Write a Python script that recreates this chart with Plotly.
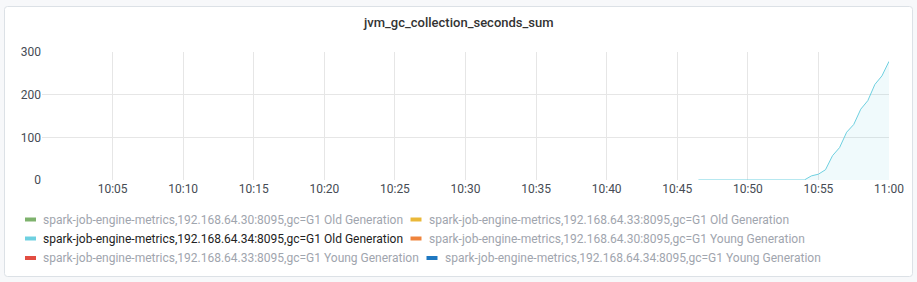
import plotly.graph_objects as go

# ---- data ----
TITLE = "jvm_gc_collection_seconds_sum"
times = [
    "2024-01-01 10:46:30", "2024-01-01 10:47:00", "2024-01-01 10:47:30", "2024-01-01 10:48:00",
    "2024-01-01 10:48:30", "2024-01-01 10:49:00", "2024-01-01 10:49:30", "2024-01-01 10:50:00",
    "2024-01-01 10:50:30", "2024-01-01 10:51:00", "2024-01-01 10:51:30", "2024-01-01 10:52:00",
    "2024-01-01 10:52:30", "2024-01-01 10:53:00", "2024-01-01 10:53:30", "2024-01-01 10:54:00",
    "2024-01-01 10:54:30", "2024-01-01 10:55:00", "2024-01-01 10:55:30", "2024-01-01 10:56:00",
    "2024-01-01 10:56:30", "2024-01-01 10:57:00", "2024-01-01 10:57:30", "2024-01-01 10:58:00",
    "2024-01-01 10:58:30", "2024-01-01 10:59:00", "2024-01-01 10:59:30", "2024-01-01 11:00:00",
]
old_gen_34 = [0, 0, 0, 0, 0, 0, 0, 0, 0, 0, 0, 0, 0, 0, 0, 0,
              9.6, 13.6, 24, 57, 76, 112, 130, 166, 186, 224, 244, 278]

series_names = [
    "spark-job-engine-metrics,192.168.64.30:8095,gc=G1 Old Generation",
    "spark-job-engine-metrics,192.168.64.33:8095,gc=G1 Old Generation",
    "spark-job-engine-metrics,192.168.64.34:8095,gc=G1 Old Generation",
    "spark-job-engine-metrics,192.168.64.30:8095,gc=G1 Young Generation",
    "spark-job-engine-metrics,192.168.64.33:8095,gc=G1 Young Generation",
    "spark-job-engine-metrics,192.168.64.34:8095,gc=G1 Young Generation",
]
series_colors = ["#7EB26D", "#EAB839", "#6ED0E0", "#EF843C", "#E24D42", "#1F78C1"]
series_visible = [False, False, True, False, False, False]

x_ticks = ["2024-01-01 10:%02d:00" % m for m in range(5, 60, 5)] + ["2024-01-01 11:00:00"]
x_tick_labels = ["10:05", "10:10", "10:15", "10:20", "10:25", "10:30", "10:35",
                 "10:40", "10:45", "10:50", "10:55", "11:00"]
y_ticks = [0, 100, 200, 300]

# ---- layout geometry (pixels) ----
W, H = 917, 282
L, R, T, B = 42, 889, 52, 180


def px(xp):
    return (xp - L) / (R - L)


def py(yp):
    return (B - yp) / (B - T)


fig = go.Figure()
fig.add_trace(go.Scatter(
    x=times, y=old_gen_34, mode="lines",
    line=dict(color=series_colors[2], width=1),
    fill="tozeroy", fillcolor="rgba(110,208,224,0.10)",
    showlegend=False, hoverinfo="x+y",
))

shapes = []
# panel
x0, x1, y0, y1, r = px(4.5), px(912.5), py(6.5), py(276.5), 3
rx, ry = r / (R - L), r / (B - T)
path = (f"M {x0+rx},{y0} L {x1-rx},{y0} Q {x1},{y0} {x1},{y0-ry} "
        f"L {x1},{y1+ry} Q {x1},{y1} {x1-rx},{y1} L {x0+rx},{y1} "
        f"Q {x0},{y1} {x0},{y1+ry} L {x0},{y0-ry} Q {x0},{y0} {x0+rx},{y0} Z")
shapes.append(dict(type="path", path=path, xref="paper", yref="paper",
                   fillcolor="white", line=dict(color="#dce1e6", width=1), layer="below"))

annotations = [dict(text=TITLE, x=px(458.5), y=py(22), xref="paper", yref="paper",
                    showarrow=False, xanchor="center", yanchor="middle",
                    font=dict(family="Roboto", size=13, color="#333333", weight=500))]

# legend (manual, flowing like Grafana)
legend_pos = [(25, 219.5), (410.5, 219.5), (25, 238.5), (410.5, 238.5), (25, 258), (426.5, 258)]
for name, col, vis, (lx, ly) in zip(series_names, series_colors, series_visible, legend_pos):
    shapes.append(dict(type="line", xref="paper", yref="paper",
                       x0=px(lx), x1=px(lx + 11), y0=py(ly), y1=py(ly),
                       line=dict(color=col, width=4)))
    annotations.append(dict(text=name, x=px(lx + 16), y=py(ly), xref="paper", yref="paper",
                            showarrow=False, xanchor="left", yanchor="middle",
                            font=dict(family="Roboto", size=12,
                                      color="#222222" if vis else "#9fa5ae")))

fig.update_layout(
    width=W, height=H,
    margin=dict(l=L, r=W - R, t=T, b=H - B, pad=0),
    paper_bgcolor="#f7f8fa", plot_bgcolor="rgba(0,0,0,0)",
    showlegend=False,
    shapes=shapes, annotations=annotations,
    font=dict(family="Roboto", size=12, color="#464c54"),
    xaxis=dict(type="date", range=["2024-01-01 10:00:00", "2024-01-01 11:00:00"],
               tickvals=x_ticks, ticktext=x_tick_labels, showgrid=True,
               gridcolor="#e6e6e6", gridwidth=1, zeroline=False, showline=False,
               ticks="", tickfont=dict(size=12, color="#464c54"), fixedrange=True),
    yaxis=dict(range=[0, 300], tickvals=y_ticks, showgrid=True, gridcolor="#e6e6e6",
               gridwidth=1, zeroline=False, showline=False, ticks="",
               tickfont=dict(size=12, color="#464c54"), fixedrange=True),
)

fig.write_html("out.html", config={"displayModeBar": False})
